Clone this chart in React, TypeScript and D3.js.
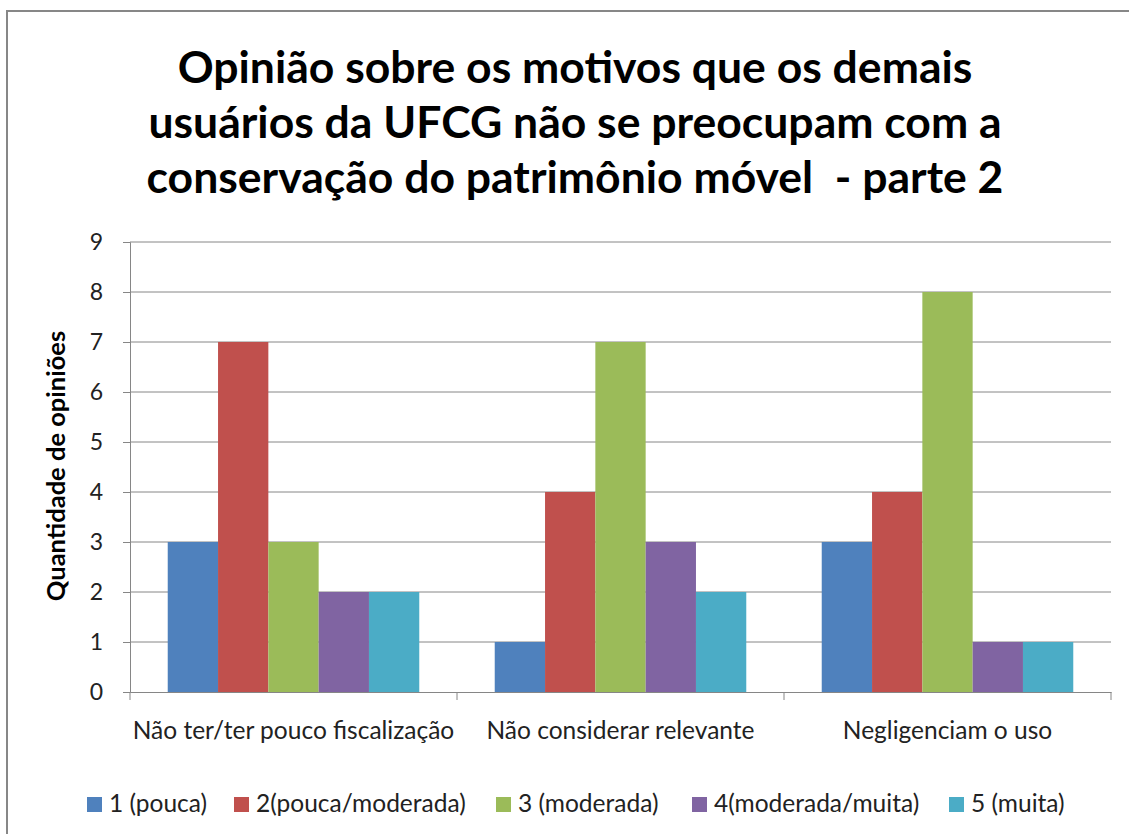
import React, { useEffect, useRef } from "react";
import * as d3 from "d3";

const categories = [
  "Não ter/ter pouco fiscalização",
  "Não considerar relevante",
  "Negligenciam o uso",
];
const seriesNames = [
  "1 (pouca)",
  "2(pouca/moderada)",
  "3 (moderada)",
  "4(moderada/muita)",
  "5 (muita)",
];
// values[series][category]
const values = [
  [3, 1, 3],
  [7, 4, 4],
  [3, 7, 8],
  [2, 3, 1],
  [2, 2, 1],
];
const yTicks = [0, 1, 2, 3, 4, 5, 6, 7, 8, 9];
const titleLines = [
  "Opinião sobre os motivos que os demais",
  "usuários da UFCG não se preocupam com a",
  "conservação do patrimônio móvel  - parte 2",
];
const colours = ["#4F81BD", "#C0504D", "#9BBB59", "#8064A2", "#4BACC6"];

export default function App() {
  const svgRef = useRef<SVGSVGElement | null>(null);

  useEffect(() => {
    const width = 1129;
    const height = 834;
    const font = "Lato, 'Open Sans', sans-serif";

    const svg = d3.select(svgRef.current);
    svg.selectAll("*").remove();

    svg.append("rect").attr("width", width).attr("height", height).attr("fill", "#fff");
    svg
      .append("rect")
      .attr("x", 7)
      .attr("y", 11)
      .attr("width", width + 20)
      .attr("height", height + 20)
      .attr("fill", "none")
      .attr("stroke", "#878787")
      .attr("stroke-width", 2);

    const x0 = d3.scaleBand().domain(categories).range([130, 1111]).padding(0);
    const x1 = d3
      .scaleBand<number>()
      .domain(d3.range(seriesNames.length))
      .range([0, x0.bandwidth()])
      .paddingOuter(0.75)
      .paddingInner(0);
    const y = d3.scaleLinear().domain([0, 9]).range([692, 242]);

    // gridlines
    svg
      .append("g")
      .selectAll("line")
      .data(yTicks.slice(1))
      .join("line")
      .attr("x1", 130)
      .attr("x2", 1111)
      .attr("y1", (d) => y(d))
      .attr("y2", (d) => y(d))
      .attr("stroke", "#868686")
      .attr("stroke-width", 1);

    // bars
    const groups = svg
      .append("g")
      .selectAll("g")
      .data(categories)
      .join("g")
      .attr("transform", (c) => `translate(${x0(c)},0)`);
    groups
      .selectAll("rect")
      .data((c, ci) => values.map((s, si) => ({ si, v: s[ci] })))
      .join("rect")
      .attr("x", (d) => x1(d.si)!)
      .attr("y", (d) => y(d.v))
      .attr("width", x1.bandwidth())
      .attr("height", (d) => y(0) - y(d.v))
      .attr("fill", (d) => colours[d.si]);

    // y axis
    const yAxis = svg
      .append("g")
      .attr("transform", "translate(130,0)")
      .call(d3.axisLeft(y).tickValues(yTicks).tickSize(7).tickPadding(20));
    yAxis.select(".domain").attr("stroke", "#868686");
    yAxis.selectAll(".tick line").attr("stroke", "#868686");
    yAxis
      .selectAll(".tick text")
      .attr("font-family", font)
      .attr("font-size", 23)
      .attr("fill", "#222");

    // x axis
    const xAxis = svg
      .append("g")
      .attr("transform", "translate(0,692)")
      .call(d3.axisBottom(x0).tickSize(0));
    xAxis.select(".domain").attr("stroke", "#868686");
    xAxis
      .selectAll(".tick text")
      .attr("y", 47)
      .attr("dy", 0)
      .attr("font-family", font)
      .attr("font-size", 24.5)
      .attr("fill", "#222");
    xAxis
      .append("g")
      .selectAll("line")
      .data([130, 1111].concat(categories.slice(1).map((c) => x0(c)!)))
      .join("line")
      .attr("x1", (d) => d)
      .attr("x2", (d) => d)
      .attr("y1", 0)
      .attr("y2", 8)
      .attr("stroke", "#868686");

    // y title
    svg
      .append("text")
      .attr("transform", "translate(65,466) rotate(-90)")
      .attr("text-anchor", "middle")
      .attr("font-family", font)
      .attr("font-weight", "bold")
      .attr("font-size", 25.5)
      .attr("fill", "#000")
      .text("Quantidade de opiniões");

    // title
    svg
      .append("g")
      .selectAll("text")
      .data(titleLines)
      .join("text")
      .attr("x", 575)
      .attr("y", (d, i) => 83 + i * 55)
      .attr("text-anchor", "middle")
      .attr("font-family", font)
      .attr("font-weight", "bold")
      .attr("font-size", 44.5)
      .attr("fill", "#000")
      .style("white-space", "pre")
      .text((d) => d);

    // legend
    const legendX = [87, 234, 496, 692, 949];
    const legend = svg
      .append("g")
      .selectAll("g")
      .data(seriesNames)
      .join("g")
      .attr("transform", (d, i) => `translate(${legendX[i]},797)`);
    legend
      .append("rect")
      .attr("width", 15)
      .attr("height", 15)
      .attr("fill", (d, i) => colours[i]);
    legend
      .append("text")
      .attr("x", 22)
      .attr("y", 15)
      .attr("font-family", font)
      .attr("font-size", 24.5)
      .attr("fill", "#222")
      .text((d) => d);
  }, []);

  return (
    <div style={{ position: "absolute", left: 0, top: 0 }}>
      <svg ref={svgRef} width={1129} height={834} style={{ display: "block" }} />
    </div>
  );
}
